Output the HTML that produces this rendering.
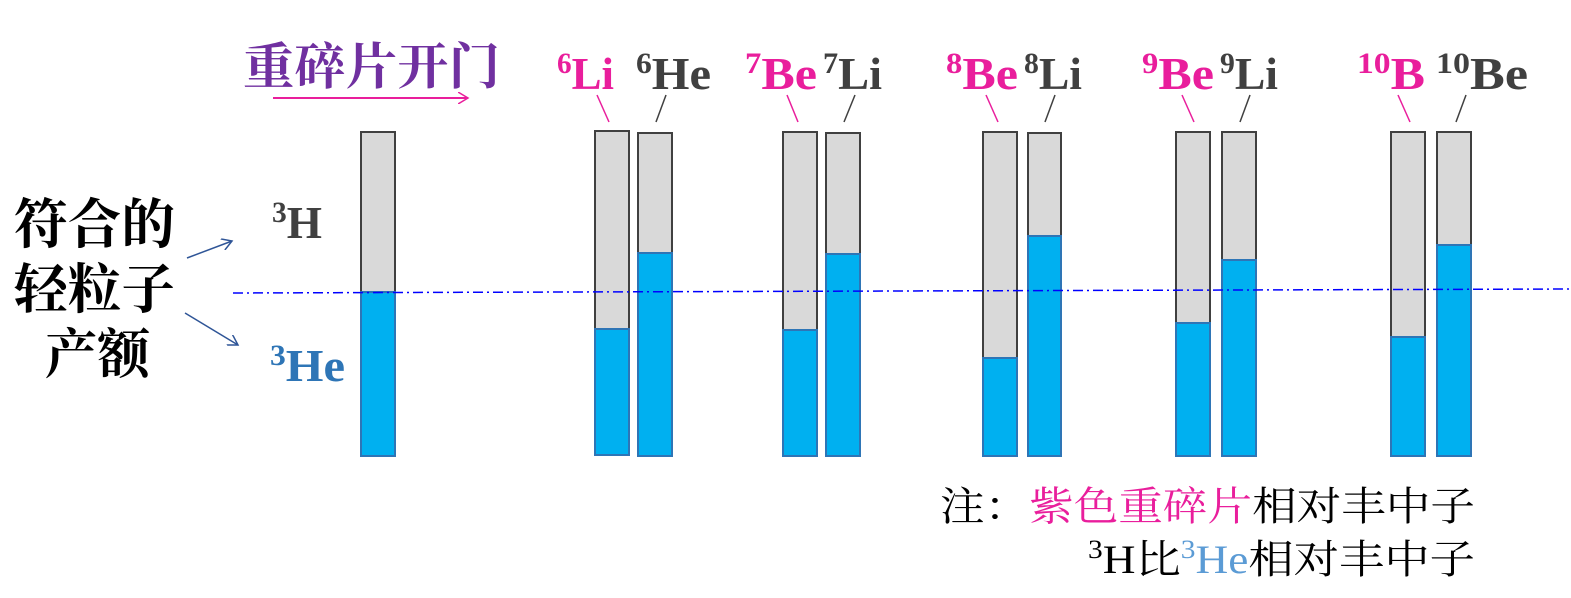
<!DOCTYPE html><html><head><meta charset="utf-8"><style>body{margin:0;background:#fff}svg{display:block}
.t{font-family:"Liberation Serif","Noto Serif CJK SC",serif;font-weight:bold}
.c{font-family:"Liberation Serif","Noto Serif CJK SC","Noto Sans CJK SC",serif}</style></head><body>
<svg width="1571" height="598" xmlns="http://www.w3.org/2000/svg">
<defs><marker id="a" markerWidth="12" markerHeight="12" refX="10" refY="6" orient="auto" markerUnits="userSpaceOnUse"><path d="M0,0 L10,6 L0,12" fill="none" stroke="context-stroke" stroke-width="1.5"/></marker></defs>
<g stroke-width="2">
<rect x="361" y="132" width="34" height="160" fill="#d9d9d9" stroke="#404040"/><rect x="361" y="292" width="34" height="164" fill="#00b0f0" stroke="#2e75b6"/>
<rect x="595" y="131" width="34" height="198" fill="#d9d9d9" stroke="#404040"/><rect x="595" y="329" width="34" height="126" fill="#00b0f0" stroke="#2e75b6"/>
<rect x="638" y="133" width="34" height="120" fill="#d9d9d9" stroke="#404040"/><rect x="638" y="253" width="34" height="203" fill="#00b0f0" stroke="#2e75b6"/>
<rect x="783" y="132" width="34" height="198" fill="#d9d9d9" stroke="#404040"/><rect x="783" y="330" width="34" height="126" fill="#00b0f0" stroke="#2e75b6"/>
<rect x="826" y="133" width="34" height="121" fill="#d9d9d9" stroke="#404040"/><rect x="826" y="254" width="34" height="202" fill="#00b0f0" stroke="#2e75b6"/>
<rect x="983" y="132" width="34" height="226" fill="#d9d9d9" stroke="#404040"/><rect x="983" y="358" width="34" height="98" fill="#00b0f0" stroke="#2e75b6"/>
<rect x="1028" y="133" width="33" height="103" fill="#d9d9d9" stroke="#404040"/><rect x="1028" y="236" width="33" height="220" fill="#00b0f0" stroke="#2e75b6"/>
<rect x="1176" y="132" width="34" height="191" fill="#d9d9d9" stroke="#404040"/><rect x="1176" y="323" width="34" height="133" fill="#00b0f0" stroke="#2e75b6"/>
<rect x="1222" y="132" width="34" height="128" fill="#d9d9d9" stroke="#404040"/><rect x="1222" y="260" width="34" height="196" fill="#00b0f0" stroke="#2e75b6"/>
<rect x="1391" y="132" width="34" height="205" fill="#d9d9d9" stroke="#404040"/><rect x="1391" y="337" width="34" height="119" fill="#00b0f0" stroke="#2e75b6"/>
<rect x="1437" y="132" width="34" height="113" fill="#d9d9d9" stroke="#404040"/><rect x="1437" y="245" width="34" height="211" fill="#00b0f0" stroke="#2e75b6"/>
<line x1="233" y1="293" x2="1571" y2="289" stroke="#0000ff" stroke-width="1.5" stroke-dasharray="10,4,2,4"/>
<line x1="273" y1="98" x2="468" y2="98" stroke="#e91e9c" marker-end="url(#a)"/>
<line x1="187" y1="258" x2="232" y2="241" stroke="#2f5597" stroke-width="1.5" marker-end="url(#a)"/>
<line x1="185" y1="313" x2="238" y2="345" stroke="#2f5597" stroke-width="1.5" marker-end="url(#a)"/>
<g stroke-width="1.5">
<line x1="597" y1="95" x2="609" y2="122" stroke="#e91e9c"/><line x1="666" y1="95" x2="656" y2="122" stroke="#404040"/>
<line x1="787" y1="95" x2="798" y2="122" stroke="#e91e9c"/><line x1="855" y1="95" x2="844" y2="122" stroke="#404040"/>
<line x1="986" y1="95" x2="998" y2="122" stroke="#e91e9c"/><line x1="1055" y1="95" x2="1045" y2="122" stroke="#404040"/>
<line x1="1182" y1="95" x2="1194" y2="122" stroke="#e91e9c"/><line x1="1250" y1="95" x2="1240" y2="122" stroke="#404040"/>
<line x1="1398" y1="95" x2="1410" y2="122" stroke="#e91e9c"/><line x1="1466" y1="95" x2="1456" y2="122" stroke="#404040"/>
</g></g>
<text x="243" y="84" fill="#7030a0" font-size="50" font-weight="bold" font-family="Noto Serif CJK SC,serif" textLength="257" lengthAdjust="spacingAndGlyphs">重碎片开门</text>
<g class="t" font-size="46" lengthAdjust="spacingAndGlyphs">
<text x="557" y="89" fill="#e91e9c" textLength="57" lengthAdjust="spacingAndGlyphs"><tspan font-size="30" dy="-16">6</tspan><tspan dy="16">Li</tspan></text>
<text x="636" y="89" fill="#404040" textLength="75" lengthAdjust="spacingAndGlyphs"><tspan font-size="30" dy="-16">6</tspan><tspan dy="16">He</tspan></text>
<text x="745" y="89" fill="#e91e9c" textLength="72" lengthAdjust="spacingAndGlyphs"><tspan font-size="30" dy="-16">7</tspan><tspan dy="16">Be</tspan></text>
<text x="823" y="89" fill="#404040" textLength="59" lengthAdjust="spacingAndGlyphs"><tspan font-size="30" dy="-16">7</tspan><tspan dy="16">Li</tspan></text>
<text x="946" y="89" fill="#e91e9c" textLength="72" lengthAdjust="spacingAndGlyphs"><tspan font-size="30" dy="-16">8</tspan><tspan dy="16">Be</tspan></text>
<text x="1024" y="89" fill="#404040" textLength="58" lengthAdjust="spacingAndGlyphs"><tspan font-size="30" dy="-16">8</tspan><tspan dy="16">Li</tspan></text>
<text x="1142" y="89" fill="#e91e9c" textLength="72" lengthAdjust="spacingAndGlyphs"><tspan font-size="30" dy="-16">9</tspan><tspan dy="16">Be</tspan></text>
<text x="1220" y="89" fill="#404040" textLength="58" lengthAdjust="spacingAndGlyphs"><tspan font-size="30" dy="-16">9</tspan><tspan dy="16">Li</tspan></text>
<text x="1357" y="89" fill="#e91e9c" textLength="68" lengthAdjust="spacingAndGlyphs"><tspan font-size="30" dy="-16">10</tspan><tspan dy="16">B</tspan></text>
<text x="1436" y="89" fill="#404040" textLength="92" lengthAdjust="spacingAndGlyphs"><tspan font-size="30" dy="-16">10</tspan><tspan dy="16">Be</tspan></text>
<text x="272" y="238" fill="#404040" textLength="50" lengthAdjust="spacingAndGlyphs"><tspan font-size="30" dy="-16">3</tspan><tspan dy="16">H</tspan></text>
<text x="270" y="381" fill="#2e75b6" textLength="75" lengthAdjust="spacingAndGlyphs"><tspan font-size="30" dy="-16">3</tspan><tspan dy="16">He</tspan></text>
</g>
<g font-family="Noto Serif CJK SC,serif" font-weight="bold" font-size="54" fill="#000">
<text x="14" y="243" textLength="161" lengthAdjust="spacingAndGlyphs">符合的</text>
<text x="14" y="308" textLength="161" lengthAdjust="spacingAndGlyphs">轻粒子</text>
<text x="45" y="373" textLength="105" lengthAdjust="spacingAndGlyphs">产额</text>
</g>
<g class="c" font-size="40" fill="#000">
<text x="940" y="520" textLength="535" lengthAdjust="spacingAndGlyphs">注：<tspan fill="#e91e9c">紫色重碎片</tspan>相对丰中子</text>
<text x="1088" y="573" textLength="387" lengthAdjust="spacingAndGlyphs"><tspan font-size="26" dy="-15">3</tspan><tspan dy="15">H比</tspan><tspan fill="#5b9bd5" font-size="26" dy="-15">3</tspan><tspan fill="#5b9bd5" dy="15">He</tspan>相对丰中子</text>
</g>
</svg></body></html>
